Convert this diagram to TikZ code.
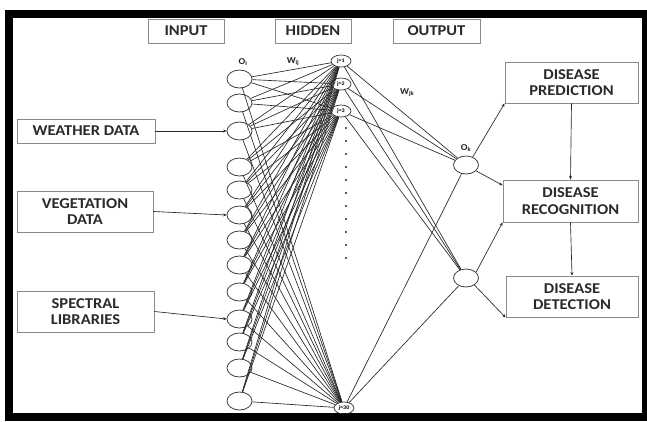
\documentclass[tikz,border=0pt]{standalone}
\usepackage{fontspec}
\setmainfont{Carlito}[FakeStretch=1.1]
\usetikzlibrary{shapes.geometric,arrows.meta}
\definecolor{boxgray}{HTML}{8A8A8A}
\definecolor{txtgray}{HTML}{2A2A2A}
\begin{document}
\begin{tikzpicture}[x=1pt,y=-1pt,
  box/.style={draw=boxgray,line width=0.9pt,align=center,font=\fontsize{15}{16.5}\selectfont\bfseries,text=txtgray,inner sep=0pt},
  neuron/.style={ellipse,draw=black!75,line width=0.8pt,minimum width=25pt,minimum height=18pt,inner sep=0pt},
  hid/.style={ellipse,draw=black!80,line width=0.7pt,minimum width=20pt,minimum height=12pt,inner sep=0pt,font=\fontsize{5.5}{6}\selectfont\bfseries},
  wire/.style={draw=black!85,line width=0.65pt},
  arr/.style={wire,-{Stealth[length=3.5pt,width=3pt]}},
  lbl/.style={font=\fontsize{9}{10}\selectfont\bfseries,text=black!85,inner sep=0pt}]
\useasboundingbox (0,0) rectangle (647,421);
% frame
\fill[black] (5,10) rectangle (647,421);
\fill[white] (13,18) rectangle (642,413);
% header boxes
\node[box,minimum width=76pt,minimum height=24pt] (hin) at (186,31) {INPUT};
\node[box,minimum width=76pt,minimum height=24pt] (hhid) at (313,31) {HIDDEN};
\node[box,minimum width=87pt,minimum height=24pt] (hout) at (436.5,31) {OUTPUT};
% left boxes
\node[box,minimum width=138pt,minimum height=24pt] (wd) at (86,131) {WEATHER DATA};
\node[box,minimum width=136pt,minimum height=41pt] (vd) at (85,211.5) {VEGETATION\\DATA};
\node[box,minimum width=137pt,minimum height=41pt] (sl) at (85.5,311.5) {SPECTRAL\\LIBRARIES};
% right boxes
\node[box,minimum width=133pt,minimum height=41pt] (pred) at (571.5,82.5) {DISEASE\\PREDICTION};
\node[box,minimum width=135pt,minimum height=42pt] (reco) at (570.5,201) {DISEASE\\RECOGNITION};
\node[box,minimum width=132pt,minimum height=41pt] (dete) at (572,296.5) {DISEASE\\DETECTION};
% input neurons
\foreach \n/\y in {1/79,2/103,3/131,4/167,5/190,6/215,7/240,8/265,9/292,10/319,11/342,12/368,13/401}
  \node[neuron] (i\n) at (239.5,\y) {};
% hidden neurons
\node[hid] (h1) at (341,61) {j=1};
\node[hid] (h2) at (341,84) {j=2};
\node[hid] (h3) at (341,111) {j=3};
\node[hid] (h30) at (344,408) {j=30};
\foreach \y in {128,141,...,260} \fill[black!85] (346,\y) circle (1.2pt);
% output neurons
\node[neuron] (o1) at (466,165) {};
\node[neuron] (o2) at (466,278) {};
% labels
\node[lbl] (lOi) at (243,62) {O$_{\mathbf i}$};
\node[lbl] (lWij) at (293,62) {W$_{\mathbf{ij}}$};
\node[lbl] (lWjk) at (407,93) {W$_{\mathbf{jk}}$};
\node[lbl] (lOk) at (466,148) {O$_{\mathbf k}$};
% input -> hidden
\foreach \n in {1,...,13}
  \foreach \h in {h1,h2,h3,h30}
    \draw[wire] (i\n) -- (\h);
% hidden -> output
\foreach \h in {h1,h2,h3,h30} {
  \draw[wire] (\h) -- (o1);
  \draw[wire] (\h) -- (o2);
}
% data arrows
\draw[arr] (wd.east) -- (i3.west);
\draw[arr] (vd.east) -- (i6.west);
\draw[arr] (sl.east) -- (i10.west);
% output arrows
\draw[arr] (o1.50) -- (pred.south west);
\draw[arr] (o1.-30) -- (reco.167);
\draw[arr] (o2.30) -- (reco.south west);
\draw[arr] (o2.-40) -- (dete.south west);
\draw[arr] (pred.south) -- (reco.north);
\draw[arr] (reco.south) -- (dete.north);
\end{tikzpicture}
\end{document}
